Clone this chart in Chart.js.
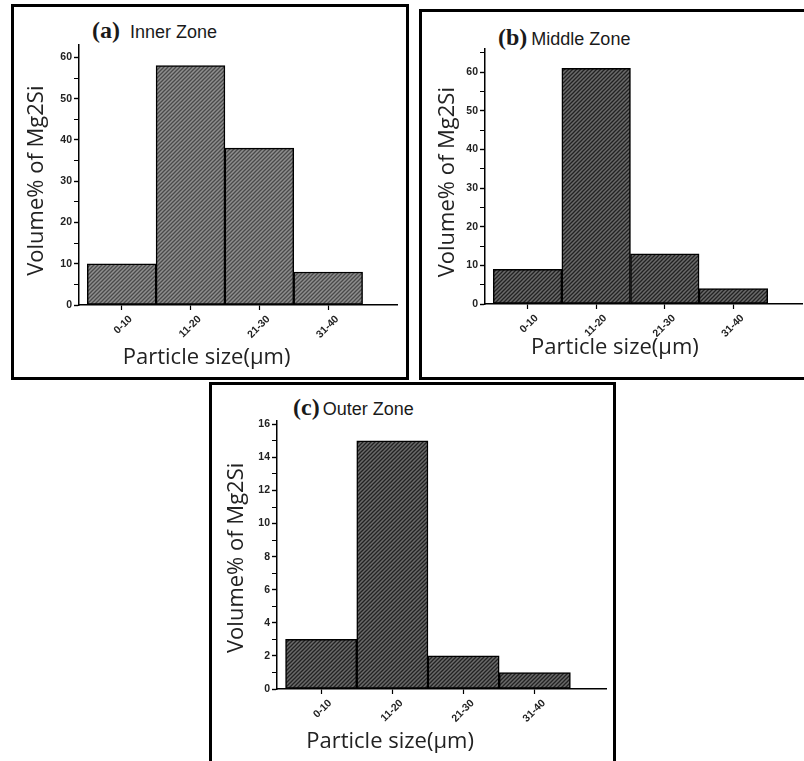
<!DOCTYPE html>
<html lang="en">
<head>
  <meta charset="UTF-8">
  <title>Volume% of Mg2Si by particle size</title>
  <style>
    body {
      margin: 0;
      width: 804px;
      height: 761px;
      overflow: hidden;
      background: #fff;
      position: relative;
    }

    .panel {
      position: absolute;
      border: 3px solid #000;
      box-sizing: border-box;
    }

    canvas {
      position: absolute;
    }

    .heading {
      position: absolute;
      white-space: nowrap;
      line-height: 24px;
      color: #1a1a1a;
      font-family: "Liberation Sans", Arial, sans-serif;
      font-size: 18px;
    }

    .heading b {
      font-family: "Liberation Serif", "Times New Roman", serif;
      font-size: 24px;
    }
  </style>
</head>
<body>
  <div class="panel" style="left:11px;top:4px;width:398px;height:376px"></div>
  <div class="panel" style="left:419px;top:9px;width:400px;height:371px"></div>
  <div class="panel" style="left:209px;top:382px;width:407px;height:400px"></div>

  <div class="heading" style="left:92px;top:18px"><b>(a)</b><span style="margin-left:10px">Inner Zone</span></div>
  <div class="heading" style="left:498px;top:25px"><b>(b)</b><span style="margin-left:4px">Middle Zone</span></div>
  <div class="heading" style="left:293px;top:395px"><b>(c)</b><span style="margin-left:3px">Outer Zone</span></div>

  <canvas id="innerChart" width="390" height="368" style="left:15px;top:8px"></canvas>
  <canvas id="middleChart" width="382" height="364" style="left:422px;top:12px"></canvas>
  <canvas id="outerChart" width="401" height="376" style="left:212px;top:385px"></canvas>

  <script src="https://cdn.jsdelivr.net/npm/chart.js"></script>
  <script>
    const categories = ['0-10', '11-20', '21-30', '31-40'];
    const innerZone = [10, 58, 38, 8];
    const middleZone = [9, 61, 13, 4];
    const outerZone = [3, 15, 2, 1];

    const xTitle = 'Particle size(µm)';
    const yTitle = 'Volume% of Mg2Si';

    // non-breaking spaces, used to nudge the centred axis titles
    const pad = n => '\u00a0'.repeat(n);

    function hatch(ctx, base, stripe) {
      const tile = document.createElement('canvas');
      tile.width = tile.height = 4;
      const g = tile.getContext('2d');
      g.fillStyle = base;
      g.fillRect(0, 0, 4, 4);
      g.strokeStyle = stripe;
      g.lineWidth = 1.3;
      g.beginPath();
      g.moveTo(0, 4); g.lineTo(4, 0);
      g.moveTo(-1, 1); g.lineTo(1, -1);
      g.moveTo(3, 5); g.lineTo(5, 3);
      g.stroke();
      return ctx.createPattern(tile, 'repeat');
    }

    function drawPanel(id, values, p) {
      const ctx = document.getElementById(id).getContext('2d');
      const tickFont = { family: "'Liberation Sans', Arial", size: 10.5, weight: 'bold' };
      const titleFont = { family: "'Open Sans'", size: 22 };

      return new Chart(ctx, {
        type: 'bar',
        data: {
          datasets: [{
            data: values.map((v, i) => ({ x: i + 1, y: v })),
            backgroundColor: hatch(ctx, p.fill, p.stripe),
            borderColor: '#000',
            borderWidth: 1.5,
            borderSkipped: false,
            barPercentage: 1,
            categoryPercentage: 1
          }]
        },
        options: {
          responsive: false,
          animation: false,
          devicePixelRatio: 1,
          layout: { padding: { left: 0, top: p.top, right: p.right, bottom: 0 } },
          plugins: {
            legend: { display: false },
            tooltip: { enabled: false }
          },
          scales: {
            x: {
              type: 'linear',
              min: 0.38,
              max: 5,
              offset: false,
              afterBuildTicks: s => { s.ticks = categories.map((c, i) => ({ value: i + 1 })); },
              afterFit: s => { s.height = p.xHeight; },
              grid: { offset: false, drawOnChartArea: false, tickLength: 5, tickColor: '#000', tickWidth: 1.2 },
              border: { color: '#000', width: 1.5 },
              ticks: {
                autoSkip: false,
                maxRotation: 45,
                minRotation: 45,
                padding: 3,
                labelOffset: 9,
                color: '#222',
                font: tickFont,
                callback: v => categories[Math.round(v) - 1]
              },
              title: {
                display: true,
                text: xTitle + pad(p.xShift),
                color: '#222',
                font: titleFont,
                padding: { top: 0, bottom: p.xTitleBottom }
              }
            },
            y: {
              min: 0,
              max: p.yMax,
              afterFit: s => { s.width = p.yWidth; },
              grid: {
                drawOnChartArea: false,
                tickLength: 5,
                tickColor: '#000',
                tickWidth: c => (c.tick && c.tick.value % p.major === 0 ? 1.4 : 1)
              },
              border: { color: '#000', width: 1.5 },
              ticks: {
                stepSize: p.minor,
                includeBounds: false,
                autoSkip: false,
                padding: 2,
                color: '#222',
                font: tickFont,
                callback: v => (v % p.major === 0 ? v : '')
              },
              title: {
                display: true,
                text: yTitle + pad(p.yShift),
                color: '#222',
                font: titleFont,
                padding: { top: p.yTitleTop, bottom: 0 }
              }
            }
          }
        }
      });
    }

    drawPanel('innerChart', innerZone, {
      fill: '#8e8e8e', stripe: '#4a4a4a',
      yMax: 63, major: 10, minor: 5,
      top: 37, right: 8, yWidth: 64, xHeight: 71,
      yTitleTop: 8.5, yShift: 2, xTitleBottom: 5, xShift: 11
    });

    drawPanel('middleChart', middleZone, {
      fill: '#6a6a6a', stripe: '#222',
      yMax: 66, major: 10, minor: 5,
      top: 37, right: 2, yWidth: 63, xHeight: 72,
      yTitleTop: 12.8, yShift: 2, xTitleBottom: 15, xShift: 10
    });

    drawPanel('outerChart', outerZone, {
      fill: '#6a6a6a', stripe: '#222',
      yMax: 16.2, major: 2, minor: 1,
      top: 36, right: 7, yWidth: 65, xHeight: 72,
      yTitleTop: 11.5, yShift: 1, xTitleBottom: 6, xShift: 18
    });
  </script>
</body>
</html>
